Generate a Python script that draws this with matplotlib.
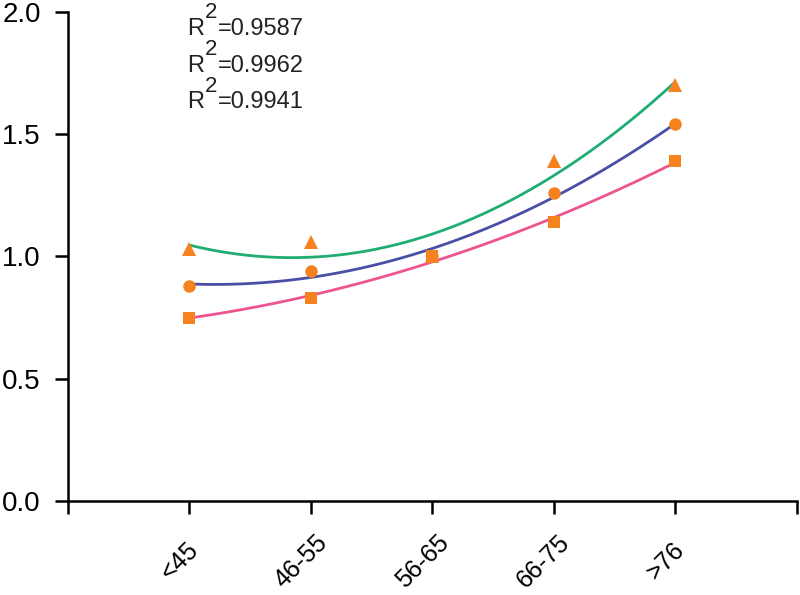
import numpy as np
import matplotlib
matplotlib.use("Agg")
import matplotlib.pyplot as plt
import matplotlib.transforms as mtransforms

plt.rcParams['font.family'] = ['Liberation Sans', 'DejaVu Sans']

groups = ['<45', '46-55', '56-65', '66-75', '>76']
triangle_vals = [1.03, 1.06, 1.00, 1.39, 1.70]
circle_vals = [0.88, 0.94, 1.00, 1.26, 1.54]
square_vals = [0.75, 0.83, 1.00, 1.14, 1.39]
r2_labels = ['0.9587', '0.9962', '0.9941']

orange = '#F5821F'
x = np.arange(1, len(groups) + 1)

fig = plt.figure(figsize=(8, 5.95), dpi=100)
ax = fig.add_axes([0.085, 0.158, 0.911, 0.822])

xs = np.linspace(1, 5, 200)
for vals, line_col, mk, ms in [(triangle_vals, '#1FAD73', '^', 10),
                               (circle_vals, '#4A4FA6', 'o', 9),
                               (square_vals, '#EE5590', 's', 8.5)]:
    coef = np.polyfit(x, vals, 2)
    ax.plot(xs, np.polyval(coef, xs), color=line_col, lw=2, zorder=2)
    ax.plot(x, vals, linestyle='none', marker=mk, color=orange, ms=ms,
            markeredgewidth=0, zorder=3)

# R^2 labels, superscript drawn at near full size like the original
for i, r in enumerate(r2_labels):
    y0 = 1.906 - i * 0.15
    ax.text(0.98, y0, 'R', fontsize=17, va='baseline', ha='left', color='#222222')
    ax.annotate('2', (0.98, y0), xytext=(13, 12), textcoords='offset points',
                fontsize=16, va='baseline', ha='left', color='#222222')
    ax.annotate('=' + r, (0.98, y0), xytext=(22, 0), textcoords='offset points',
                fontsize=17, va='baseline', ha='left', color='#222222')

ax.set_xlim(0, 6)
ax.set_ylim(0, 2.0)
ax.tick_params(direction='out', length=9.5, width=1.8, labelsize=20)
ax.tick_params(axis='y', pad=10)
ax.tick_params(axis='x', pad=34, labelsize=18)
ax.set_xticks(range(0, 7))
ax.set_xticklabels([''] + groups + [''], rotation=45, ha='center', va='center',
                   rotation_mode='anchor')
shift = mtransforms.ScaledTranslation(-10 / 100, 0, fig.dpi_scale_trans)
for lab in ax.get_xticklabels():
    lab.set_transform(lab.get_transform() + shift)
ax.set_yticks([0, 0.5, 1.0, 1.5, 2.0])
ax.set_yticklabels(['0.0', '0.5', '1.0', '1.5', '2.0'])
for s in ['top', 'right']:
    ax.spines[s].set_visible(False)
for s in ['left', 'bottom']:
    ax.spines[s].set_linewidth(1.8)

fig.savefig('out.png', dpi=100)
